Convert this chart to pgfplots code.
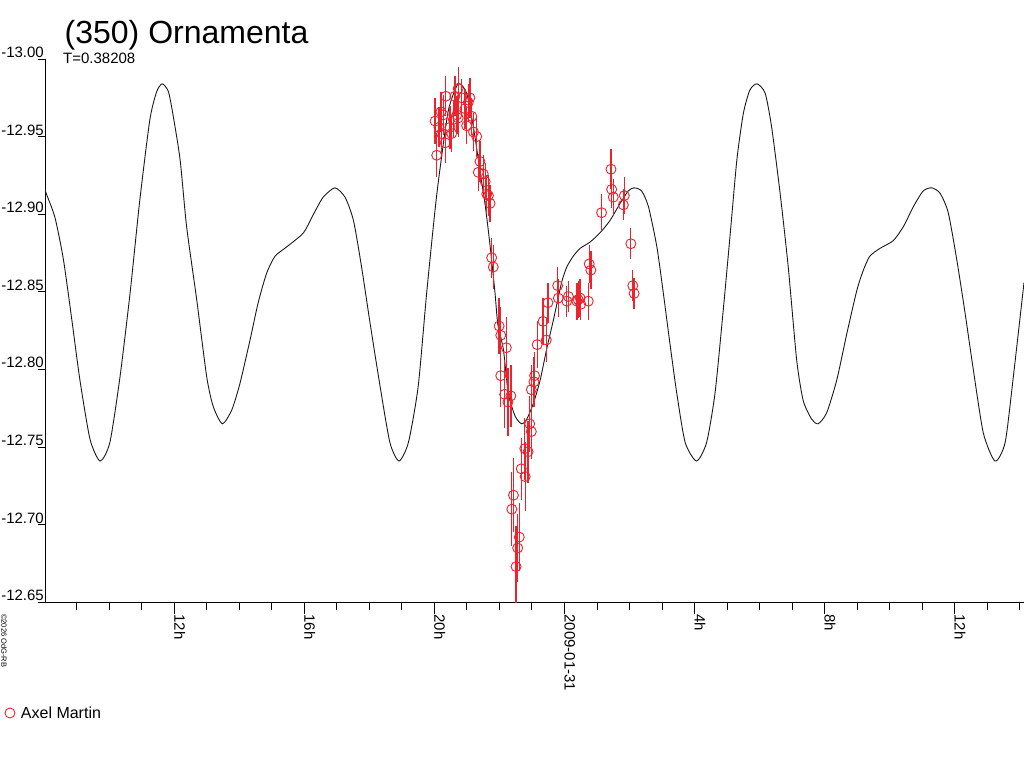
\documentclass[border=0pt]{standalone}
\usepackage{fontspec}
\setmainfont{Liberation Sans}
\usepackage{pgfplots}
\pgfplotsset{compat=1.18}
\usepackage{pgfplotstable}
\definecolor{ptred}{RGB}{235,35,45}

\pgfplotstableread{
h m
-15.975 -12.916
-15.94 -12.9135
-15.67 -12.898
-15.41 -12.871
-15.15 -12.832
-14.90 -12.793
-14.59 -12.755
-14.28 -12.741
-13.98 -12.753
-13.67 -12.795
-13.36 -12.849
-13.06 -12.909
-12.75 -12.961
-12.54 -12.979
-12.37 -12.984
-12.18 -12.979
-12.03 -12.963
-11.82 -12.935
-11.62 -12.892
-11.31 -12.845
-11.00 -12.795
-10.80 -12.776
-10.52 -12.765
-10.23 -12.774
-9.98 -12.791
-9.67 -12.819
-9.42 -12.843
-9.16 -12.862
-8.90 -12.873
-8.54 -12.879
-8.03 -12.888
-7.72 -12.900
-7.42 -12.911
-7.06 -12.917
-6.75 -12.911
-6.49 -12.896
-6.24 -12.866
-5.98 -12.830
-5.67 -12.789
-5.37 -12.753
-5.09 -12.741
-4.80 -12.753
-4.50 -12.789
-4.24 -12.849
-3.98 -12.903
-3.83 -12.929
-3.57 -12.967
-3.27 -12.984
-3.01 -12.978
-2.80 -12.956
-2.60 -12.928
-2.44 -12.906
-2.29 -12.880
-2.14 -12.850
-2.05 -12.829
-1.88 -12.813
-1.73 -12.785
-1.52 -12.770
-1.32 -12.765
-1.16 -12.768
-0.96 -12.778
-0.75 -12.793
-0.55 -12.813
-0.34 -12.832
-0.09 -12.856
0.07 -12.866
0.27 -12.873
0.48 -12.878
0.78 -12.882
1.09 -12.888
1.40 -12.896
1.71 -12.907
1.96 -12.915
2.14 -12.917
2.37 -12.915
2.58 -12.905
2.84 -12.879
3.04 -12.849
3.24 -12.817
3.45 -12.785
3.71 -12.753
4.06 -12.741
4.37 -12.753
4.63 -12.785
4.88 -12.838
5.09 -12.886
5.30 -12.935
5.50 -12.965
5.70 -12.980
5.92 -12.984
6.17 -12.978
6.37 -12.956
6.63 -12.9135
6.88 -12.866
7.14 -12.806
7.34 -12.780
7.60 -12.768
7.80 -12.765
8.06 -12.772
8.37 -12.793
8.68 -12.823
8.99 -12.851
9.19 -12.864
9.39 -12.873
9.70 -12.878
10.11 -12.883
10.42 -12.892
10.73 -12.905
11.03 -12.915
11.29 -12.917
11.55 -12.9135
11.80 -12.901
12.06 -12.871
12.32 -12.836
12.57 -12.800
12.88 -12.759
13.24 -12.741
13.55 -12.753
13.80 -12.795
14.13 -12.856
}\fitcurve

\pgfplotstableread{
h m e
-3.98 -12.960 0.015
-3.93 -12.938 0.014
-3.86 -12.956 0.013
-3.80 -12.966 0.013
-3.78 -12.952 0.014
-3.73 -12.964 0.013
-3.67 -12.946 0.013
-3.65 -12.976 0.013
-3.52 -12.956 0.014
-3.47 -12.952 0.012
-3.42 -12.961 0.012
-3.37 -12.976 0.013
-3.31 -12.964 0.012
-3.27 -12.981 0.014
-3.27 -12.962 0.012
-3.16 -12.975 0.012
-3.06 -12.968 0.013
-3.01 -12.957 0.012
-2.96 -12.972 0.012
-2.91 -12.975 0.013
-2.85 -12.963 0.012
-2.80 -12.953 0.012
-2.70 -12.950 0.013
-2.65 -12.927 0.012
-2.60 -12.934 0.013
-2.50 -12.926 0.012
-2.44 -12.921 0.012
-2.39 -12.913 0.012
-2.34 -12.912 0.013
-2.29 -12.907 0.012
-2.24 -12.872 0.013
-2.19 -12.866 0.014
-2.01 -12.828 0.018
-1.96 -12.822 0.018
-1.96 -12.796 0.020
-1.84 -12.784 0.022
-1.79 -12.814 0.020
-1.74 -12.779 0.022
-1.65 -12.783 0.020
-1.62 -12.710 0.024
-1.57 -12.719 0.024
-1.49 -12.673 0.026
-1.44 -12.685 0.022
-1.39 -12.692 0.022
-1.33 -12.736 0.020
-1.22 -12.749 0.020
-1.21 -12.731 0.022
-1.12 -12.747 0.020
-1.07 -12.765 0.018
-1.02 -12.760 0.018
-1.02 -12.787 0.016
-0.94 -12.792 0.016
-0.92 -12.796 0.015
-0.84 -12.816 0.015
-0.66 -12.831 0.015
-0.56 -12.819 0.014
-0.51 -12.843 0.013
-0.21 -12.854 0.012
-0.19 -12.846 0.012
0.07 -12.844 0.010
0.12 -12.847 0.010
0.38 -12.844 0.012
0.42 -12.845 0.012
0.48 -12.846 0.012
0.50 -12.842 0.010
0.73 -12.844 0.012
0.76 -12.868 0.012
0.81 -12.864 0.012
1.14 -12.901 0.012
1.43 -12.929 0.013
1.45 -12.916 0.012
1.50 -12.911 0.012
1.81 -12.906 0.010
1.84 -12.912 0.012
2.04 -12.881 0.010
2.10 -12.854 0.010
2.14 -12.849 0.010
}\obsdata

\begin{document}
\begin{tikzpicture}
\begin{axis}[
  scale only axis, width=979pt, height=543.3pt,
  xmin=-15.975, xmax=14.13, ymin=-13.0, ymax=-12.65,
  y dir=reverse,
  axis x line=bottom, axis y line=left,
  axis line style={black, line width=1pt, -},
  xtick={-12,-8,-4,0,4,8,12},
  xticklabels={12h,16h,20h,2009-01-31,4h,8h,12h},
  minor xtick={-15,-14,-13,-11,-10,-9,-7,-6,-5,-3,-2,-1,1,2,3,5,6,7,9,10,11,13,14},
  ytick={-13,-12.95,-12.9,-12.85,-12.8,-12.75,-12.7,-12.65},
  yticklabels={-13.00,-12.95,-12.90,-12.85,-12.80,-12.75,-12.70,-12.65},
  tick align=outside,
  major tick length=12pt, minor tick length=8pt,
  tick style={black, line width=1pt},
  ytick style={/pgfplots/major tick length=7pt},
  /pgf/number format/assume math mode=true,
  tick label style={font=\fontsize{15}{15}\selectfont},
  xticklabel style={rotate=-90, anchor=base west, inner sep=0pt},
  yticklabel style={anchor=base east, inner sep=0pt, xshift=11pt, yshift=1.5pt},
  clip=true,
  legend style={at={(axis description cs:-0.0409,-0.2037)}, anchor=west, draw=none, fill=none,
    inner sep=0pt, outer sep=0pt, font=\fontsize{16}{16}\selectfont,
    nodes={inner sep=0pt},
    /tikz/every odd column/.append style={column sep=6pt}},
  legend cell align=left,
]
\addplot[black!90, line width=0.9pt, smooth, tension=0.4, forget plot] table[x=h, y=m] {\fitcurve};
\addplot[only marks, mark=o, mark size=5pt, mark options={ptred, line width=0.9pt},
  error bars/.cd, y dir=both, y explicit, error mark=none,
  error bar style={ptred, line width=1.3pt}]
  table[x=h, y=m, y error=e] {\obsdata};
\addlegendimage{legend image code/.code={\draw[ptred, line width=0.9pt] (5pt,0pt) circle (5pt);}}
\addlegendentry{Axel Martin}
\coordinate (BL) at (axis cs:-15.975,-12.65);
\end{axis}
\node[anchor=base west, inner sep=0pt, font=\fontsize{32}{32}\selectfont] at ([shift={(19.5pt,559pt)}]BL) {(350) Ornamenta};
\node[anchor=base west, inner sep=0pt, font=\fontsize{15}{15}\selectfont] at ([shift={(18pt,539pt)}]BL) {T=0.38208};
\node[rotate=-90, anchor=base west, inner sep=0pt, font=\fontsize{7.5}{7.5}\selectfont] at ([shift={(-43.5pt,-11.7pt)}]BL) {©2026 OdG-RB};
\pgfresetboundingbox
\path[use as bounding box] ([shift={(-45pt,-165.7pt)}]BL) rectangle ([shift={(979pt,602.3pt)}]BL);
\end{tikzpicture}
\end{document}
